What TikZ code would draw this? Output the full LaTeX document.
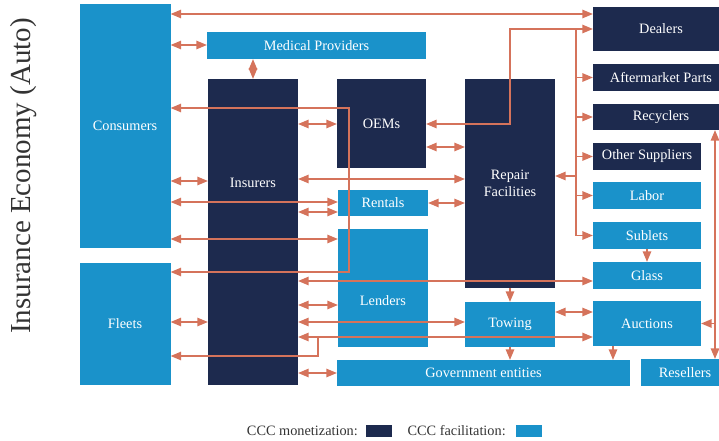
\documentclass[tikz,border=0pt]{standalone}
\usepackage{fontspec}
\setmainfont{Liberation Serif}
\usetikzlibrary{positioning}
\usetikzlibrary{arrows}
\definecolor{navy}{HTML}{1D2A4E}
\definecolor{sky}{HTML}{1A92CA}
\definecolor{salmon}{HTML}{D5735B}
\definecolor{inkgray}{HTML}{333333}

\begin{document}
\begin{tikzpicture}[x=1pt,y=-1pt,>=triangle 45,
    box/.style={inner sep=0pt,text=white,font=\fontsize{14.3}{16.5}\selectfont,align=center},
    mon/.style={box,fill=navy},
    fac/.style={box,fill=sky},
    link/.style={draw=salmon,line width=1.4pt},
    legtxt/.style={inner sep=0pt,text=inkgray,font=\fontsize{14.3}{16.5}\selectfont}]
    \clip (0,0) rectangle (719,441);
    \node[rotate=90,text=inkgray,font=\fontsize{29}{32}\selectfont] (title) at (24,176) {Insurance Economy (Auto)};
    % customers
    \node[fac,minimum width=91,minimum height=244] (cons) at (125,126) {Consumers};
    \node[fac,minimum width=91,minimum height=122] (fleets) at (125,324) {Fleets};
    % middle
    \node[fac,minimum width=219,minimum height=27] (med) at (316.5,45.5) {Medical Providers};
    \node[mon,minimum width=90,minimum height=306] (ins) at (253,232) {};
    \node[box] (instxt) at (253,183) {Insurers};
    \node[mon,minimum width=89,minimum height=89] (oems) at (381.5,123.5) {OEMs};
    \node[fac,minimum width=90,minimum height=26] (rent) at (383,203) {Rentals};
    \node[fac,minimum width=90,minimum height=118] (lend) at (383,288) {};
    \node[box] (lendtxt) at (383,301) {Lenders};
    \node[fac,minimum width=293,minimum height=26] (gov) at (483.5,373) {Government entities};
    \node[mon,minimum width=90,minimum height=209] (rep) at (510,183.5) {Repair\\Facilities};
    \node[fac,minimum width=90,minimum height=45] (tow) at (510,324.5) {Towing};
    % suppliers
    \node[mon,minimum width=136,minimum height=44] (dealers) at (661,29) {Dealers};
    \node[mon,minimum width=136,minimum height=27] (after) at (661,77.5) {Aftermarket Parts};
    \node[mon,minimum width=136,minimum height=26] (recyc) at (661,117) {Recyclers};
    \node[mon,minimum width=108,minimum height=27] (other) at (647,156.5) {Other Suppliers};
    \node[fac,minimum width=108,minimum height=27] (labor) at (647,195.5) {Labor};
    \node[fac,minimum width=108,minimum height=27] (sublets) at (647,235.5) {Sublets};
    \node[fac,minimum width=108,minimum height=27] (glass) at (647,275.5) {Glass};
    \node[fac,minimum width=108,minimum height=45] (auct) at (647,323.5) {Auctions};
    \node[fac,minimum width=88,minimum height=27] (resell) at (685,372.5) {Resellers};
    % connectors
    \draw[link,<->] (cons.east |- 0,14) -- (dealers.west |- 0,14);
    \draw[link,<->] (cons.east |- 0,45) -- (med.west |- 0,45);
    \draw[link,<->] (ins.north |- med.south) -- (ins.north);
    \draw[link,<->] (cons.east |- 0,108) -- (349,108) -- (349,272) -- (fleets.east |- 0,272);
    \draw[link,<->] (ins.east |- 0,124) -- (oems.west |- 0,124);
    \draw[link,<->] (dealers.west) -- (510,29) -- (510,124) -- (oems.east |- 0,124);
    \draw[link] (576,29) -- (576,236);
    \foreach \n in {after,recyc,other,labor,sublets}
        \draw[link,->] (\n.west -| 576,0) -- (\n.west);
    \draw[link,->] (576,176) -- (rep.east |- 0,176);
    \draw[link,<->] (oems.east |- 0,147) -- (rep.west |- 0,147);
    \draw[link,<->] (ins.east |- 0,179) -- (rep.west |- 0,179);
    \draw[link,<->] (cons.east |- 0,181) -- (ins.west |- 0,181);
    \draw[link,<->] (cons.east |- 0,202) -- (rent.west |- 0,202);
    \draw[link,<->] (ins.east |- 0,212) -- (rent.west |- 0,212);
    \draw[link,<->] (rent.east) -- (rep.west |- rent.east);
    \draw[link,<->] (cons.east |- 0,239) -- (lend.west |- 0,239);
    \draw[link,<->] (ins.east |- 0,281) -- (glass.west |- 0,281);
    \draw[link,<->] (fleets.east |- 0,322) -- (ins.west |- 0,322);
    \draw[link,<->] (ins.east |- 0,305) -- (lend.west |- 0,305);
    \draw[link,<->] (ins.east |- 0,322) -- (tow.west |- 0,322);
    \draw[link,<->] (ins.east |- 0,337) -- (auct.west |- 0,337);
    \draw[link,->] (318,337) |- (fleets.east |- 0,356);
    \draw[link,<->] (ins.east |- gov.west) -- (gov.west);
    \draw[link,->] (rep.south) -- (tow.north);
    \draw[link,<->] (tow.east |- 0,312) -- (auct.west |- 0,312);
    \draw[link,->] (tow.south) -- (tow.south |- gov.north);
    \draw[link,->] (auct.south -| 613,0) -- (gov.north -| 613,0);
    \draw[link,->] (sublets.south) -- (glass.north);
    \draw[link,<->] (recyc.south -| 715,0) -- (resell.north -| 715,0);
    \draw[link,->] (auct.east -| 715,0) -- (auct.east);
    % legend
    \node[legtxt,anchor=east] (legm) at (358,431) {CCC monetization:};
    \node[fill=navy,minimum width=26,minimum height=12,inner sep=0pt,right=8 of legm] (keym) {};
    \node[legtxt,right=15 of keym] (legf) {CCC facilitation:};
    \node[fill=sky,minimum width=26,minimum height=12,inner sep=0pt,right=10 of legf] (keyf) {};
\end{tikzpicture}
\end{document}
